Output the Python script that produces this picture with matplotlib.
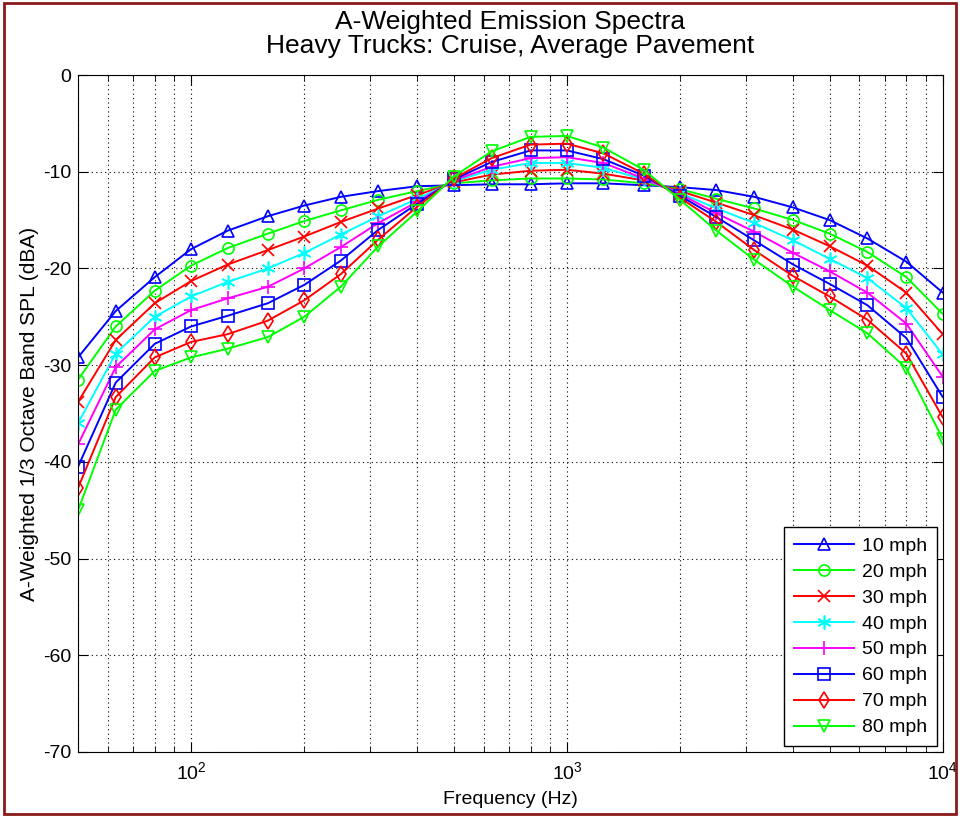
import matplotlib
matplotlib.use("Agg")
from matplotlib import pyplot as plt
from matplotlib.patches import Rectangle
from matplotlib.ticker import LogLocator, NullFormatter

plt.rcParams['font.family'] = ['Liberation Sans', 'DejaVu Sans']
plt.rcParams['axes.unicode_minus'] = False

FREQS = [50, 63, 80, 100, 125, 160, 200, 250, 315, 400, 500, 630,
         800, 1000, 1250, 1600, 2000, 2500, 3150, 4000, 5000, 6300, 8000, 10000]

SPEEDS = ["10 mph", "20 mph", "30 mph", "40 mph", "50 mph", "60 mph", "70 mph", "80 mph"]

mph10 = [-29.2, -24.4, -20.9, -18.0, -16.1, -14.6, -13.5, -12.6, -12.0, -11.5, -11.4, -11.3,
         -11.3, -11.2, -11.2, -11.4, -11.6, -11.9, -12.6, -13.7, -15.0, -16.9, -19.3, -22.5]
mph20 = [-31.5, -26.0, -22.3, -19.7, -17.9, -16.4, -15.1, -14.0, -12.9, -12.0, -11.2, -10.9,
         -10.7, -10.7, -10.8, -11.2, -11.8, -12.8, -13.8, -15.0, -16.4, -18.3, -20.9, -24.7]
mph30 = [-33.8, -27.4, -23.6, -21.3, -19.6, -18.1, -16.7, -15.2, -13.8, -12.4, -11.1, -10.3,
         -9.9, -9.8, -10.2, -10.9, -12.0, -13.2, -14.5, -16.0, -17.7, -19.7, -22.5, -26.8]
mph40 = [-36.0, -28.8, -25.0, -22.9, -21.4, -20.0, -18.4, -16.5, -14.6, -12.8, -11.0, -9.8,
         -9.1, -9.1, -9.6, -10.8, -12.2, -13.8, -15.3, -17.1, -19.0, -21.0, -24.1, -28.9]
mph50 = [-38.2, -30.2, -26.3, -24.3, -23.1, -21.9, -20.0, -17.8, -15.3, -13.1, -10.9, -9.5,
         -8.6, -8.5, -9.1, -10.7, -12.3, -14.3, -16.2, -18.4, -20.3, -22.5, -25.7, -31.2]
mph60 = [-40.5, -31.8, -27.8, -26.0, -24.9, -23.6, -21.7, -19.2, -16.0, -13.3, -10.8, -9.0,
         -7.8, -7.8, -8.7, -10.4, -12.5, -14.7, -17.1, -19.6, -21.6, -23.8, -27.2, -33.3]
mph70 = [-42.7, -33.3, -29.2, -27.6, -26.8, -25.4, -23.3, -20.6, -17.0, -13.6, -10.7, -8.6,
         -7.2, -7.1, -8.1, -10.2, -12.7, -15.2, -18.1, -20.8, -22.9, -25.3, -28.8, -35.4]
mph80 = [-45.0, -34.6, -30.6, -29.2, -28.3, -27.1, -25.0, -21.9, -17.7, -14.1, -10.5, -7.9,
         -6.4, -6.3, -7.5, -9.8, -12.9, -16.1, -19.1, -21.9, -24.3, -26.7, -30.3, -37.6]

SERIES = [mph10, mph20, mph30, mph40, mph50, mph60, mph70, mph80]
COLOR = ["#0000ff", "#00ff00", "#ff0000", "#00ffff", "#ff00ff", "#0000ff", "#ff0000", "#00ff00"]
# matlab-ish markers, (6, 2, 0) is the line asterisk
MARKER = ["^", "o", "x", (6, 2, 0), "+", "s", "d", "v"]

fig = plt.figure(figsize=(9.6, 8.17), dpi=100)
ax = fig.add_axes([0.0813, 0.0796, 0.9007, 0.8286])

for vals, c, m, lab in zip(SERIES, COLOR, MARKER, SPEEDS):
    ms = 10 if m in ("+", (6, 2, 0)) else 8
    ax.plot(FREQS, vals, color=c, marker=m, markersize=ms, markerfacecolor="none",
            markeredgecolor=c, markeredgewidth=1.2, linewidth=1.4, label=lab)

ax.set_xscale("log")
ax.set_xlim(50, 10000)
ax.set_ylim(-70, 0)
ax.set_yticks(range(-70, 1, 10))
ax.xaxis.set_minor_locator(LogLocator(base=10, subs=range(2, 10)))
ax.xaxis.set_minor_formatter(NullFormatter())
ax.grid(True, which="major", color="black", linestyle=(0, (1, 3)), linewidth=0.8)
ax.grid(True, which="minor", axis="x", color="black", linestyle=(0, (1, 3)), linewidth=0.8)
ax.tick_params(which="both", direction="in", top=True, right=True, labelsize=14)
ax.tick_params(which="major", length=7)
ax.tick_params(which="minor", length=4)
ax.tick_params(axis="x", pad=7)
ax.tick_params(axis="y", pad=5)

ax.set_xlabel("Frequency (Hz)", fontsize=14, labelpad=5)
ax.set_ylabel("A-Weighted 1/3 Octave Band SPL (dBA)", fontsize=15, labelpad=3)
ax.set_title("A-Weighted Emission Spectra\nHeavy Trucks: Cruise, Average Pavement",
             fontsize=19, pad=16, linespacing=1.0)

leg = ax.legend(loc="lower right", fontsize=14, fancybox=False, edgecolor="black",
                framealpha=1, borderaxespad=0.3, handlelength=3.1, handletextpad=0.4,
                labelspacing=0.43, borderpad=0.5)
leg.get_frame().set_linewidth(1.0)

fig.patches.append(Rectangle((0.004, 0.004), 0.992, 0.992, transform=fig.transFigure,
                             fill=False, edgecolor="#8b1a1a", linewidth=2))

fig.savefig("out.png", dpi=100)
